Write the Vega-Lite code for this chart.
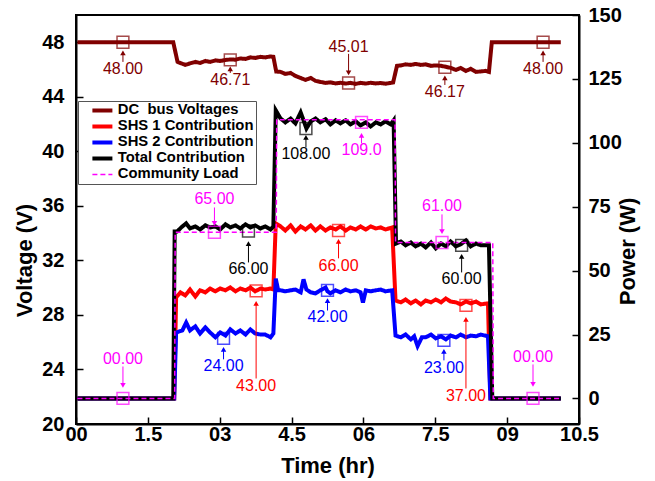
{
  "$schema": "https://vega.github.io/schema/vega-lite/v6.json",
  "width": 503,
  "height": 409,
  "autosize": {"type": "none"},
  "padding": {"left": 76, "top": 15, "right": 76, "bottom": 57},
  "background": "white",
  "config": {
    "view": {"stroke": "black", "strokeWidth": 2},
    "font": "Liberation Sans",
    "axis": {"domainColor": "black", "domainWidth": 2, "tickColor": "black", "tickWidth": 1.5, "labelFont": "Liberation Sans", "labelFontWeight": "bold", "labelFontSize": 20, "labelColor": "black", "titleFont": "Liberation Sans", "titleFontWeight": "bold", "titleColor": "black", "grid": false},
    "legend": {"orient": "none", "legendX": 2, "legendY": 86, "padding": 2, "strokeColor": "#555555", "fillColor": "white", "symbolSize": 400, "symbolOffset": 15, "labelOffset": 8, "rowPadding": -6.5, "labelFont": "Liberation Sans", "labelFontWeight": "bold", "labelFontSize": 14.8, "labelColor": "black", "symbolStrokeWidth": 4, "symbolType": "stroke"}
  },
  "datasets": {
    "dc": [
      {"t":0.03,"v":48},{"t":2.03,"v":48},{"t":2.12,"v":46.56},{"t":2.28,"v":46.34},{"t":2.38,"v":46.45},{"t":2.49,"v":46.56},{"t":2.59,"v":46.48},{"t":2.7,"v":46.63},{"t":2.8,"v":46.56},{"t":2.91,"v":46.67},{"t":3.01,"v":46.63},{"t":3.12,"v":46.7},{"t":3.22,"v":46.74},{"t":3.33,"v":46.72},{"t":3.43,"v":46.81},{"t":3.54,"v":46.78},{"t":3.64,"v":46.89},{"t":3.74,"v":46.85},{"t":3.85,"v":46.93},{"t":3.95,"v":46.89},{"t":4.06,"v":46.96},{"t":4.12,"v":46.93},{"t":4.18,"v":45.85},{"t":4.27,"v":45.83},{"t":4.37,"v":45.68},{"t":4.48,"v":45.75},{"t":4.58,"v":45.53},{"t":4.69,"v":45.38},{"t":4.79,"v":45.24},{"t":4.9,"v":45.38},{"t":5.0,"v":45.17},{"t":5.1,"v":45.09},{"t":5.21,"v":45.02},{"t":5.31,"v":45.06},{"t":5.42,"v":44.98},{"t":5.52,"v":45.03},{"t":5.63,"v":44.97},{"t":5.73,"v":45.02},{"t":5.84,"v":44.95},{"t":5.94,"v":45.02},{"t":6.05,"v":44.97},{"t":6.15,"v":45.03},{"t":6.26,"v":44.98},{"t":6.36,"v":45.01},{"t":6.46,"v":44.96},{"t":6.57,"v":45.02},{"t":6.62,"v":45.05},{"t":6.7,"v":46.27},{"t":6.78,"v":46.3},{"t":6.88,"v":46.38},{"t":6.99,"v":46.34},{"t":7.09,"v":46.41},{"t":7.2,"v":46.34},{"t":7.3,"v":46.38},{"t":7.41,"v":46.27},{"t":7.51,"v":46.3},{"t":7.62,"v":46.27},{"t":7.72,"v":46.2},{"t":7.82,"v":46.12},{"t":7.93,"v":45.97},{"t":8.03,"v":46.12},{"t":8.14,"v":45.9},{"t":8.24,"v":46.05},{"t":8.35,"v":45.83},{"t":8.45,"v":45.86},{"t":8.55,"v":45.9},{"t":8.62,"v":45.83},{"t":8.68,"v":48},{"t":10.12,"v":48}
    ],
    "shs1": [
      {"t":0.03,"v":0},{"t":2.05,"v":0},{"t":2.09,"v":39.5},{"t":2.18,"v":41.5},{"t":2.28,"v":40.3},{"t":2.38,"v":42.6},{"t":2.49,"v":39.9},{"t":2.59,"v":42.3},{"t":2.7,"v":41.5},{"t":2.8,"v":43},{"t":2.91,"v":41.9},{"t":3.01,"v":43},{"t":3.12,"v":42.3},{"t":3.22,"v":43.4},{"t":3.33,"v":41.9},{"t":3.43,"v":43},{"t":3.54,"v":42.3},{"t":3.64,"v":43.4},{"t":3.74,"v":41.9},{"t":3.85,"v":43},{"t":3.95,"v":42.6},{"t":4.06,"v":43},{"t":4.12,"v":42.6},{"t":4.17,"v":68.5},{"t":4.27,"v":67.3},{"t":4.37,"v":65.7},{"t":4.48,"v":67.7},{"t":4.58,"v":65.3},{"t":4.69,"v":67.3},{"t":4.79,"v":66.1},{"t":4.9,"v":67.7},{"t":5.0,"v":65.7},{"t":5.1,"v":67.3},{"t":5.21,"v":65.7},{"t":5.31,"v":66.9},{"t":5.42,"v":66.1},{"t":5.52,"v":67.3},{"t":5.63,"v":65.7},{"t":5.73,"v":66.9},{"t":5.84,"v":66.1},{"t":5.94,"v":67.3},{"t":6.05,"v":66.1},{"t":6.15,"v":67.3},{"t":6.26,"v":66.5},{"t":6.36,"v":66.9},{"t":6.46,"v":66.1},{"t":6.6,"v":66.9},{"t":6.67,"v":38.3},{"t":6.78,"v":37.6},{"t":6.88,"v":38.7},{"t":6.99,"v":37.2},{"t":7.09,"v":38.3},{"t":7.2,"v":36.8},{"t":7.3,"v":38.3},{"t":7.41,"v":37.6},{"t":7.51,"v":38.7},{"t":7.62,"v":37.6},{"t":7.72,"v":39.1},{"t":7.82,"v":37.9},{"t":7.93,"v":37.6},{"t":8.03,"v":36.8},{"t":8.14,"v":37.9},{"t":8.24,"v":37.2},{"t":8.35,"v":37.9},{"t":8.45,"v":36.8},{"t":8.6,"v":37.2},{"t":8.65,"v":0},{"t":10.12,"v":0}
    ],
    "shs2": [
      {"t":0.03,"v":0},{"t":2.05,"v":0},{"t":2.09,"v":25.8},{"t":2.22,"v":26.6},{"t":2.3,"v":29.7},{"t":2.38,"v":26.6},{"t":2.49,"v":28.2},{"t":2.59,"v":25.4},{"t":2.7,"v":27.8},{"t":2.8,"v":25.8},{"t":2.91,"v":23.9},{"t":3.01,"v":25.8},{"t":3.12,"v":24.6},{"t":3.22,"v":27},{"t":3.33,"v":25.4},{"t":3.43,"v":26.6},{"t":3.54,"v":25},{"t":3.64,"v":27},{"t":3.74,"v":25.4},{"t":3.85,"v":25},{"t":3.95,"v":25},{"t":4.06,"v":23.9},{"t":4.12,"v":25.4},{"t":4.17,"v":46.9},{"t":4.22,"v":42.3},{"t":4.27,"v":42.3},{"t":4.37,"v":41.9},{"t":4.48,"v":42.3},{"t":4.58,"v":42.6},{"t":4.69,"v":41.5},{"t":4.75,"v":46.6},{"t":4.81,"v":42.6},{"t":4.9,"v":41.5},{"t":5.0,"v":41.1},{"t":5.1,"v":42.3},{"t":5.21,"v":43.4},{"t":5.25,"v":41.9},{"t":5.31,"v":41.1},{"t":5.42,"v":42.3},{"t":5.52,"v":41.5},{"t":5.63,"v":42.6},{"t":5.73,"v":41.9},{"t":5.84,"v":42.3},{"t":5.94,"v":41.5},{"t":5.99,"v":37.5},{"t":6.05,"v":42.3},{"t":6.15,"v":41.9},{"t":6.26,"v":42.3},{"t":6.36,"v":42.6},{"t":6.46,"v":41.9},{"t":6.6,"v":42.3},{"t":6.67,"v":24.6},{"t":6.78,"v":23.9},{"t":6.88,"v":25},{"t":6.99,"v":23.1},{"t":7.06,"v":24.3},{"t":7.13,"v":20.5},{"t":7.22,"v":23.9},{"t":7.3,"v":23.9},{"t":7.41,"v":25},{"t":7.51,"v":23.5},{"t":7.62,"v":24.3},{"t":7.72,"v":23.1},{"t":7.82,"v":24.6},{"t":7.93,"v":23.9},{"t":8.03,"v":25},{"t":8.14,"v":23.9},{"t":8.24,"v":24.6},{"t":8.35,"v":24.3},{"t":8.45,"v":25},{"t":8.6,"v":24.3},{"t":8.65,"v":0},{"t":10.12,"v":0}
    ],
    "total": [
      {"t":0.03,"v":0},{"t":2.03,"v":0},{"t":2.06,"v":65.3},{"t":2.11,"v":65.3},{"t":2.22,"v":67.3},{"t":2.3,"v":68.5},{"t":2.38,"v":66.5},{"t":2.49,"v":67.3},{"t":2.59,"v":66.1},{"t":2.7,"v":67.7},{"t":2.8,"v":66.9},{"t":2.91,"v":67.3},{"t":3.01,"v":66.1},{"t":3.12,"v":68.1},{"t":3.22,"v":66.9},{"t":3.33,"v":67.7},{"t":3.43,"v":66.5},{"t":3.54,"v":68.1},{"t":3.64,"v":66.9},{"t":3.74,"v":67.7},{"t":3.85,"v":66.5},{"t":3.95,"v":67.3},{"t":4.06,"v":66.1},{"t":4.12,"v":67.3},{"t":4.17,"v":112.7},{"t":4.27,"v":109.5},{"t":4.37,"v":108},{"t":4.48,"v":109.5},{"t":4.58,"v":107.6},{"t":4.69,"v":111.9},{"t":4.75,"v":108.8},{"t":4.81,"v":105.6},{"t":4.9,"v":108.4},{"t":5.0,"v":109.5},{"t":5.1,"v":108},{"t":5.21,"v":109.2},{"t":5.31,"v":107.2},{"t":5.42,"v":108.8},{"t":5.52,"v":107.6},{"t":5.63,"v":108.8},{"t":5.73,"v":107.2},{"t":5.84,"v":108.4},{"t":5.94,"v":106.8},{"t":6.05,"v":108},{"t":6.15,"v":106.4},{"t":6.26,"v":108},{"t":6.36,"v":107.2},{"t":6.46,"v":108.4},{"t":6.57,"v":107.2},{"t":6.63,"v":108.8},{"t":6.68,"v":60.6},{"t":6.78,"v":61.4},{"t":6.88,"v":59.9},{"t":6.99,"v":61},{"t":7.09,"v":59.5},{"t":7.2,"v":60.6},{"t":7.3,"v":59.1},{"t":7.41,"v":61},{"t":7.51,"v":58.7},{"t":7.62,"v":60.6},{"t":7.72,"v":59.5},{"t":7.82,"v":61.4},{"t":7.93,"v":59.5},{"t":8.03,"v":60.3},{"t":8.14,"v":61.8},{"t":8.24,"v":59.5},{"t":8.35,"v":60.6},{"t":8.45,"v":59.9},{"t":8.62,"v":59.9},{"t":8.69,"v":0},{"t":10.12,"v":0}
    ],
    "load": [
      {"t":0.03,"v":0},{"t":2.06,"v":0},{"t":2.07,"v":65},{"t":4.18,"v":65},{"t":4.19,"v":109},{"t":6.66,"v":109},{"t":6.67,"v":61},{"t":8.7,"v":61},{"t":8.71,"v":0},{"t":10.12,"v":0}
    ],
    "annV": [
      {"s":"DC\u00a0 bus Voltages","t":0.98,"v":48,"lab":"48.00","ly":46.05,"a1":46.56,"a2":47.22,"d":"up"},
      {"s":"DC\u00a0 bus Voltages","t":3.22,"v":46.71,"lab":"46.71","ly":45.24,"a1":45.75,"a2":46.05,"d":"up"},
      {"s":"DC\u00a0 bus Voltages","t":5.69,"v":45.01,"lab":"45.01","ly":47.66,"a1":47.15,"a2":45.75,"d":"down"},
      {"s":"DC\u00a0 bus Voltages","t":7.7,"v":46.17,"lab":"46.17","ly":44.36,"a1":44.87,"a2":45.38,"d":"up"},
      {"s":"DC\u00a0 bus Voltages","t":9.75,"v":48,"lab":"48.00","ly":46.05,"a1":46.56,"a2":47.22,"d":"up"}
    ],
    "annP": [
      {"s":"Community Load","t":0.98,"v":0,"lab":"00.00","ly":15.6,"a1":12.5,"a2":5.1,"d":"down"},
      {"s":"Community Load","t":2.89,"v":65,"lab":"65.00","ly":77.9,"a1":74.7,"a2":68.5,"d":"down"},
      {"s":"Community Load","t":5.96,"v":108,"lab":"109.0","ly":97.0,"a1":99.8,"a2":102.9,"d":"up"},
      {"s":"Community Load","t":7.64,"v":61,"lab":"61.00","ly":75.1,"a1":72.0,"a2":65.3,"d":"down"},
      {"s":"Community Load","t":9.54,"v":0,"lab":"00.00","ly":16.4,"a1":13.3,"a2":5.5,"d":"down"},
      {"s":"Total Contribution","t":3.6,"v":65.5,"lab":"66.00","ly":50.5,"a1":53.2,"a2":60.6,"d":"up"},
      {"s":"Total Contribution","t":4.8,"v":105.6,"lab":"108.00","ly":95.5,"a1":98.2,"a2":102.1,"d":"up"},
      {"s":"Total Contribution","t":8.05,"v":59.9,"lab":"60.00","ly":46.6,"a1":49.3,"a2":55.6,"d":"up"},
      {"s":"SHS 1 Contribution","t":3.76,"v":42.1,"lab":"43.00","ly":4.7,"a1":7.8,"a2":37.2,"d":"up"},
      {"s":"SHS 1 Contribution","t":5.48,"v":65.7,"lab":"66.00","ly":52.0,"a1":54.8,"a2":61.4,"d":"up"},
      {"s":"SHS 1 Contribution","t":8.14,"v":36.4,"lab":"37.00","ly":0.8,"a1":3.9,"a2":30.9,"d":"up"},
      {"s":"SHS 2 Contribution","t":3.08,"v":23.5,"lab":"24.00","ly":12.5,"a1":15.3,"a2":19.2,"d":"up"},
      {"s":"SHS 2 Contribution","t":5.25,"v":42.3,"lab":"42.00","ly":31.7,"a1":34.4,"a2":38.3,"d":"up"},
      {"s":"SHS 2 Contribution","t":7.68,"v":22.7,"lab":"23.00","ly":12.1,"a1":14.9,"a2":18.4,"d":"up"}
    ]
  },
  "layer": [
    {
      "encoding": {
        "x": {"field": "t", "type": "quantitative", "title": "Time (hr)", "scale": {"domain": [0, 10.5], "nice": false, "zero": false},
          "axis": {"title": "Time (hr)", "titleFontSize": 22, "titleY": 41, "titleBaseline": "middle", "values": [0,0.75,1.5,2.25,3,3.75,4.5,5.25,6,6.75,7.5,8.25,9,9.75,10.5],
            "labelExpr": "datum.value === 0 ? '00' : datum.value === 3 ? '03' : datum.value === 6 ? '06' : datum.value === 9 ? '09' : (datum.value % 1.5 === 0 ? format(datum.value, '.1f') : '')",
            "tickSize": {"condition": {"test": "datum.value % 1.5 === 0", "value": -7}, "value": -4},
            "labelPadding": 7, "labelFlush": false}}
      },
      "layer": [
        {
          "data": {"name": "dc"},
          "mark": {"type": "line", "strokeWidth": 4},
          "encoding": {
            "y": {"field": "v", "type": "quantitative", "title": "Voltage (V)", "scale": {"domain": [20, 50], "nice": false, "zero": false},
              "axis": {"orient": "left", "title": "Voltage (V)", "titleFontSize": 22, "titleX": -52, "titleY": 245, "titleBaseline": "middle", "titleAlign": "center", "titleAngle": -90,
                "values": [20,22,24,26,28,30,32,34,36,38,40,42,44,46,48],
                "labelExpr": "datum.value % 4 === 0 ? datum.label : ''",
                "tickSize": {"condition": {"test": "datum.value % 4 === 0", "value": -7}, "value": -4},
                "labelPadding": 19}},
            "color": {"datum": "DC\u00a0 bus Voltages", "type": "nominal", "title": null, "scale": {"domain": ["DC\u00a0 bus Voltages", "SHS 1 Contribution", "SHS 2 Contribution", "Total Contribution", "Community Load"], "range": ["#800000", "#ff0000", "#0000ff", "#000000", "#ff00ff"]},
              "legend": {"symbolStrokeWidth": {"expr": "datum && datum.value === 'Community Load' ? 1.5 : 4"}, "labelExpr": "datum.label + '\u00a0\u00a0'"}},
            "strokeDash": {"datum": "DC\u00a0 bus Voltages", "type": "nominal", "title": null, "scale": {"domain": ["DC\u00a0 bus Voltages", "SHS 1 Contribution", "SHS 2 Contribution", "Total Contribution", "Community Load"], "range": [[1,0],[1,0],[1,0],[1,0],[5,3]]}}
          }
        },
        {
          "data": {"name": "annV"},
          "mark": {"type": "point", "shape": "square", "filled": false, "size": 140, "strokeWidth": 1.5},
          "encoding": {"y": {"field": "v", "type": "quantitative", "title": "Voltage (V)"}, "stroke": {"field": "s", "type": "nominal", "legend": null, "scale": {"domain": ["Community Load", "Total Contribution", "SHS 2 Contribution", "SHS 1 Contribution", "DC\u00a0 bus Voltages"], "range": ["#ff00ff", "#000000", "#0000ff", "#ff0000", "#800000"]}}}
        },
        {
          "data": {"name": "annV"},
          "mark": {"type": "rule", "strokeWidth": 1},
          "encoding": {"y": {"field": "a1", "type": "quantitative", "title": "Voltage (V)"}, "y2": {"field": "a2"}, "stroke": {"field": "s", "type": "nominal", "legend": null}}
        },
        {
          "data": {"name": "annV"},
          "mark": {"type": "point", "filled": true, "size": 30, "opacity": 1, "strokeWidth": 0},
          "encoding": {"y": {"field": "a2", "type": "quantitative", "title": "Voltage (V)"}, "shape": {"field": "d", "type": "nominal", "legend": null, "scale": {"domain": ["up", "down"], "range": ["triangle-up", "triangle-down"]}}, "fill": {"field": "s", "type": "nominal", "legend": null, "scale": {"domain": ["Community Load", "Total Contribution", "SHS 2 Contribution", "SHS 1 Contribution", "DC\u00a0 bus Voltages"], "range": ["#ff00ff", "#000000", "#0000ff", "#ff0000", "#800000"]}}}
        },
        {
          "data": {"name": "annV"},
          "mark": {"type": "text", "fontSize": 16, "font": "Liberation Sans", "baseline": "middle"},
          "encoding": {"y": {"field": "ly", "type": "quantitative", "title": "Voltage (V)"}, "text": {"field": "lab"}, "fill": {"field": "s", "type": "nominal", "legend": null}}
        }
      ]
    },
    {
      "encoding": {
        "x": {"field": "t", "type": "quantitative", "title": "Time (hr)"}
      },
      "layer": [
        {
          "data": {"name": "shs1"},
          "mark": {"type": "line", "strokeWidth": 4},
          "encoding": {
            "y": {"field": "v", "type": "quantitative", "title": "Power (W)", "scale": {"domain": [-10, 150], "nice": false, "zero": false},
              "axis": {"orient": "right", "title": "Power (W)", "titleFontSize": 22, "titleX": 48, "titleY": 236, "titleBaseline": "middle", "titleAlign": "center", "titleAngle": -90,
                "values": [0,12.5,25,37.5,50,62.5,75,87.5,100,112.5,125,137.5,150],
                "labelExpr": "datum.value % 25 === 0 ? datum.label : ''",
                "tickSize": {"condition": {"test": "datum.value % 25 === 0", "value": -7}, "value": -4},
                "labelPadding": 16}},
            "color": {"datum": "SHS 1 Contribution", "type": "nominal", "title": null},
            "strokeDash": {"datum": "SHS 1 Contribution", "type": "nominal", "title": null}
          }
        },
        {
          "data": {"name": "shs2"},
          "mark": {"type": "line", "strokeWidth": 4},
          "encoding": {
            "y": {"field": "v", "type": "quantitative", "title": "Power (W)"},
            "color": {"datum": "SHS 2 Contribution", "type": "nominal", "title": null},
            "strokeDash": {"datum": "SHS 2 Contribution", "type": "nominal", "title": null}
          }
        },
        {
          "data": {"name": "total"},
          "mark": {"type": "line", "strokeWidth": 4},
          "encoding": {
            "y": {"field": "v", "type": "quantitative", "title": "Power (W)"},
            "color": {"datum": "Total Contribution", "type": "nominal", "title": null},
            "strokeDash": {"datum": "Total Contribution", "type": "nominal", "title": null}
          }
        },
        {
          "data": {"name": "load"},
          "mark": {"type": "line", "strokeWidth": 1.5},
          "encoding": {
            "y": {"field": "v", "type": "quantitative", "title": "Power (W)"},
            "color": {"datum": "Community Load", "type": "nominal", "title": null},
            "strokeDash": {"datum": "Community Load", "type": "nominal", "title": null}
          }
        },
        {
          "data": {"name": "annP"},
          "mark": {"type": "point", "shape": "square", "filled": false, "size": 140, "strokeWidth": 1.5},
          "encoding": {"y": {"field": "v", "type": "quantitative", "title": "Power (W)"}, "stroke": {"field": "s", "type": "nominal", "legend": null}}
        },
        {
          "data": {"name": "annP"},
          "mark": {"type": "rule", "strokeWidth": 1},
          "encoding": {"y": {"field": "a1", "type": "quantitative", "title": "Power (W)"}, "y2": {"field": "a2"}, "stroke": {"field": "s", "type": "nominal", "legend": null}}
        },
        {
          "data": {"name": "annP"},
          "mark": {"type": "point", "filled": true, "size": 30, "opacity": 1, "strokeWidth": 0},
          "encoding": {"y": {"field": "a2", "type": "quantitative", "title": "Power (W)"}, "shape": {"field": "d", "type": "nominal", "legend": null}, "fill": {"field": "s", "type": "nominal", "legend": null}}
        },
        {
          "data": {"name": "annP"},
          "mark": {"type": "text", "fontSize": 16, "font": "Liberation Sans", "baseline": "middle"},
          "encoding": {"y": {"field": "ly", "type": "quantitative", "title": "Power (W)"}, "text": {"field": "lab"}, "fill": {"field": "s", "type": "nominal", "legend": null}}
        }
      ]
    }
  ],
  "resolve": {"scale": {"y": "independent"}}
}
